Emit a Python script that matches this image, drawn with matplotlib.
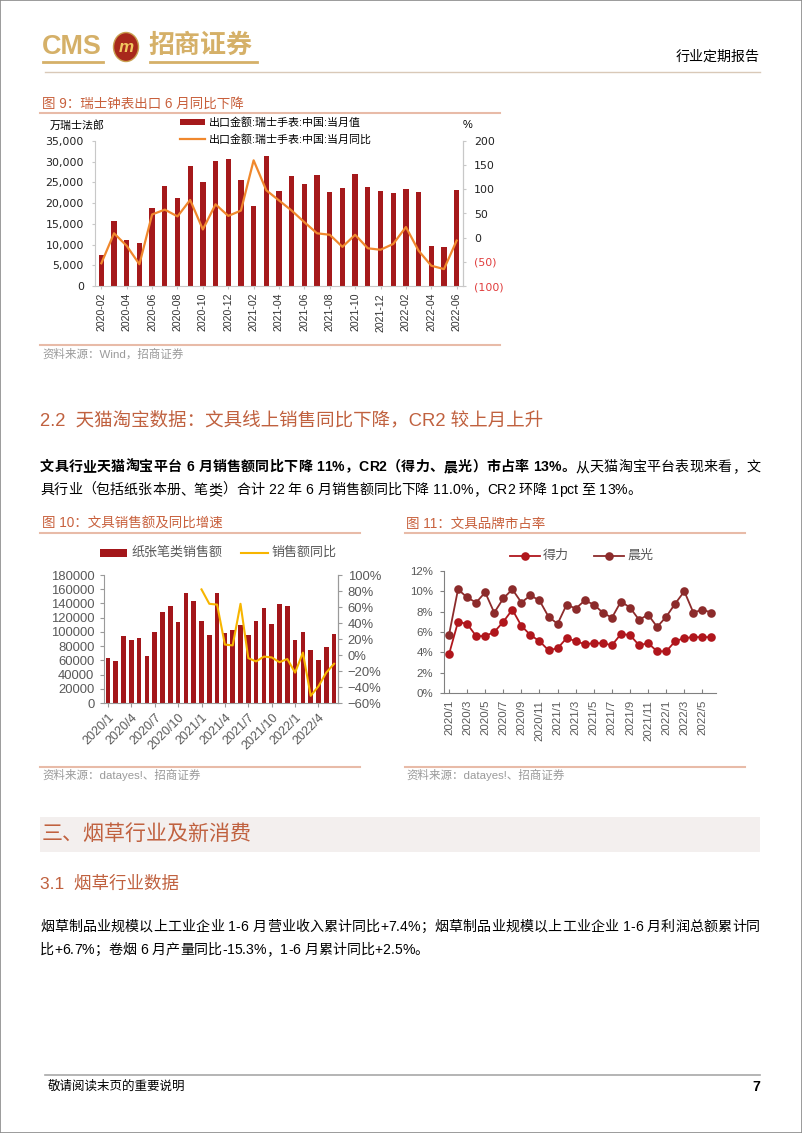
import matplotlib
matplotlib.use('Agg')
import matplotlib.pyplot as plt
import numpy as np
from matplotlib.patches import Rectangle, Ellipse
from matplotlib.lines import Line2D
from matplotlib.font_manager import FontProperties

# ---------------- data ----------------
swiss_months = ['2020-02', '2020-03', '2020-04', '2020-05', '2020-06', '2020-07', '2020-08',
                '2020-09', '2020-10', '2020-11', '2020-12', '2021-01', '2021-02', '2021-03',
                '2021-04', '2021-05', '2021-06', '2021-07', '2021-08', '2021-09', '2021-10',
                '2021-11', '2021-12', '2022-01', '2022-02', '2022-03', '2022-04', '2022-05',
                '2022-06']
swiss_value = [7400, 15700, 11100, 10300, 18800, 24200, 21200, 29000, 25200, 30200, 30700,
               25600, 19200, 31300, 23000, 26500, 24700, 26700, 22700, 23600, 27000, 23900,
               23000, 22400, 23400, 22700, 9700, 9300, 23100]
swiss_yoy = [-53, 9, -17, -55, 48, 58, 44, 78, 17, 69, 45, 56, 160, 98, 77, 56, 32, 9, 6,
             -19, 6, -22, -25, -13, 22, -27, -58, -65, -6]

stat_months = ['2020/1', '2020/2', '2020/3', '2020/4', '2020/5', '2020/6', '2020/7', '2020/8',
               '2020/9', '2020/10', '2020/11', '2020/12', '2021/1', '2021/2', '2021/3',
               '2021/4', '2021/5', '2021/6', '2021/7', '2021/8', '2021/9', '2021/10',
               '2021/11', '2021/12', '2022/1', '2022/2', '2022/3', '2022/4', '2022/5', '2022/6']
stat_sales = [63000, 59000, 94000, 89000, 92000, 66000, 100000, 128000, 136000, 114000,
              154000, 143000, 115000, 96000, 154000, 99000, 103000, 109000, 96000, 116000,
              133000, 111000, 139000, 136000, 89000, 100000, 74000, 60000, 79000, 97000]
stat_yoy = [np.nan] * 12 + [82, 64, 63, 13, 12, 64, -4, -8, -2, -3, -9, -5, -22, 3, -51,
                            -39, -22, -11]

share_deli = [3.8, 7.0, 6.8, 5.6, 5.6, 6.0, 7.0, 8.2, 6.6, 5.7, 5.1, 4.2, 4.4, 5.4, 5.1,
              4.8, 4.9, 4.9, 4.7, 5.8, 5.7, 4.7, 4.9, 4.1, 4.1, 5.1, 5.4, 5.5, 5.5, 5.5]
share_chenguang = [5.7, 10.2, 9.4, 8.9, 9.9, 7.9, 9.3, 10.2, 8.9, 9.6, 9.1, 7.5, 6.8, 8.7,
                   8.3, 9.1, 8.7, 7.9, 7.4, 9.0, 8.4, 7.2, 7.7, 6.5, 7.5, 8.8, 10.0, 7.9,
                   8.2, 7.9]

# ---------------- page helpers ----------------
W, H = 802, 1133
fig = plt.figure(figsize=(W / 100, H / 100), dpi=100)
LAT = ['Liberation Sans', 'Noto Sans CJK SC', 'DejaVu Sans']
CJK = ['Noto Sans CJK SC', 'DejaVu Sans']
plt.rcParams['font.family'] = LAT
plt.rcParams['axes.unicode_minus'] = False

ORANGE = '#C8603C'
RULE = '#E8BBA8'
GRAY_SRC = '#9A9A9A'


def fx(x):
    return x / W


def fy(y):
    return 1 - y / H


def rect(x0, y0, x1, y1):
    return [x0 / W, 1 - y1 / H, (x1 - x0) / W, (y1 - y0) / H]


def pt(px):
    return px * 72 / 100


def txt(x, y, s, size_px, color='black', weight='normal', ha='left', va='center',
        family=LAT, **kw):
    return fig.text(fx(x), fy(y), s, fontsize=pt(size_px), color=color, fontweight=weight,
                    ha=ha, va=va, family=family, **kw)


def hline(x0, x1, y, color, lw=1.0):
    fig.add_artist(Line2D([fx(x0), fx(x1)], [fy(y), fy(y)], color=color, lw=lw,
                          transform=fig.transFigure))


renderer = fig.canvas.get_renderer()


def char_w(c, size_px, weight):
    if c == ' ':
        return size_px * 0.28
    fp = FontProperties(family=LAT, size=pt(size_px), weight=weight)
    w, h, d = renderer.get_text_width_height_descent(c, fp, ismath=False)
    return w


def draw_line(x, y, runs, size_px, width=None):
    chars = []
    for s, wgt, col in runs:
        for c in s:
            chars.append((c, wgt, col, char_w(c, size_px, wgt)))
    total = sum(c[3] for c in chars)
    gaps = []
    for i in range(len(chars) - 1):
        a, b = chars[i][0], chars[i + 1][0]
        inner = (a.isascii() and a not in ' ' and b.isascii() and b not in ' ')
        gaps.append(0 if inner else 1)
    extra = 0
    if width is not None and sum(gaps) > 0:
        extra = (width - total) / sum(gaps)
    cx = x
    for i, (c, wgt, col, w) in enumerate(chars):
        if c != ' ':
            txt(cx, y, c, size_px, color=col, weight=wgt)
        cx += w
        if i < len(gaps):
            cx += extra * gaps[i]


# page border
fig.add_artist(Rectangle((0, 0), 1, 1, transform=fig.transFigure, fill=False,
                         edgecolor='#8A8A8A', lw=1.2))

# ---------------- header ----------------
GOLD = '#D5B068'
txt(42, 47, 'CMS', 27, color=GOLD, weight='bold',
    family=['Liberation Sans Narrow', 'Liberation Sans'])
fig.add_artist(Ellipse((fx(126), fy(47)), 25 / W, 29 / H, transform=fig.transFigure,
                       facecolor='#A8281C', edgecolor='#C9A050', lw=1))
txt(126, 47, 'm', 17, color='#F2C860', weight='bold', ha='center', style='italic')
txt(148, 46, '招商证券', 26, color=GOLD, weight='bold')
hline(43, 103, 62, GOLD, lw=2)
hline(150, 257, 62, GOLD, lw=2)
txt(760, 57, '行业定期报告', 14, ha='right')
hline(45, 760, 72, '#D9C9B8', lw=1)

# ---------------- chart 9 ----------------
txt(42, 104, '图 9：瑞士钟表出口 6 月同比下降', 13.5, color=ORANGE)
hline(40, 500, 113, RULE, lw=1.5)

BAR9 = '#A5191B'
LINE9 = '#F0882D'
ax9 = fig.add_axes(rect(95, 141, 463, 286))
x9 = np.arange(len(swiss_months))
ax9.bar(x9, swiss_value, width=0.42, color=BAR9)
ax9.set_xlim(-0.5, len(swiss_months) - 0.5)
ax9.set_ylim(0, 35000)
ax9.set_yticks(np.arange(0, 35001, 5000))
ax9.set_yticklabels([f'{v:,}' for v in range(0, 35001, 5000)])
ax9.set_xticks(x9[::2])
ax9.set_xticklabels(swiss_months[::2], rotation=90)
for s in ['top']:
    ax9.spines[s].set_visible(False)
for s in ['left', 'bottom', 'right']:
    ax9.spines[s].set_color('#C8C8C8')
ax9.tick_params(axis='y', length=2, pad=6, labelsize=pt(11), colors='#C8C8C8',
                labelcolor='#222222')
ax9.tick_params(axis='x', length=2, pad=3, labelsize=pt(10.5), colors='#C8C8C8',
                labelcolor='#333333')
for lab in ax9.get_yticklabels():
    lab.set_family(['DejaVu Sans'])

ax9b = ax9.twinx()
ax9b.plot(x9, swiss_yoy, color=LINE9, lw=1.6)
ax9b.set_ylim(-100, 200)
r_ticks = list(range(-100, 201, 50))
ax9b.set_yticks(r_ticks)
ax9b.set_yticklabels([f'({-v})' if v < 0 else f'{v}' for v in r_ticks])
ax9b.tick_params(axis='y', length=2, pad=6, labelsize=pt(11), colors='#C8C8C8')
for lab, v in zip(ax9b.get_yticklabels(), r_ticks):
    lab.set_color('#E03C3C' if v < 0 else '#222222')
    lab.set_family(['DejaVu Sans'])
for s in ['top', 'left', 'bottom']:
    ax9b.spines[s].set_visible(False)
ax9b.spines['right'].set_color('#C8C8C8')

txt(50, 125, '万瑞士法郎', 11)
txt(463, 125, '%', 11)
# legend 9
fig.add_artist(Rectangle((fx(180), fy(125)), 25 / W, 6 / H, transform=fig.transFigure,
                         facecolor=BAR9, edgecolor='none'))
txt(209, 122, '出口金额:瑞士手表:中国:当月值', 11)
hline(180, 205, 139, LINE9, lw=1.6)
txt(209, 139, '出口金额:瑞士手表:中国:当月同比', 11)

hline(40, 500, 345, RULE, lw=1.5)
txt(42, 354, '资料来源：Wind，招商证券', 11.5, color=GRAY_SRC)

# ---------------- section 2.2 text ----------------
txt(40, 420, '2.2  天猫淘宝数据：文具线上销售同比下降，CR2 较上月上升', 18.5, color='#C0613F')
draw_line(40, 467, [('文具行业天猫淘宝平台 6 月销售额同比下降 11%，CR2（得力、晨光）市占率 13%。', 'bold', 'black'),
                    ('从天猫淘宝平台表现来看，文', 'normal', 'black')], 14, width=720)
draw_line(40, 490, [('具行业（包括纸张本册、笔类）合计 22 年 6 月销售额同比下降 11.0%，CR2 环降 1pct 至 13%。',
                     'normal', 'black')], 14, width=None)

# ---------------- chart 10 ----------------
txt(42, 524, '图 10：文具销售额及同比增速', 13.5, color=ORANGE)
hline(40, 360, 533, RULE, lw=1.5)

BAR10 = '#A3161A'
LINE10 = '#F7B500'
TICKG = '#595959'
ax10 = fig.add_axes(rect(104, 575, 338, 703))
x10 = np.arange(len(stat_months))
ax10.bar(x10, stat_sales, width=0.58, color=BAR10)
ax10.set_xlim(-0.5, len(stat_months) - 0.5)
ax10.set_ylim(0, 180000)
ax10.set_yticks(np.arange(0, 180001, 20000))
ax10.set_xticks(x10[::3])
ax10.set_xticklabels(stat_months[::3], rotation=45, ha='right', rotation_mode='anchor')
ax10.spines['top'].set_visible(False)
for s in ['left', 'bottom', 'right']:
    ax10.spines[s].set_color('#9A9A9A')
ax10.tick_params(axis='y', length=3, pad=4, labelsize=pt(13), colors='#9A9A9A',
                 labelcolor=TICKG)
ax10.tick_params(axis='x', length=3, pad=3, labelsize=pt(12.5), colors='#9A9A9A',
                 labelcolor=TICKG)
ax10b = ax10.twinx()
ax10b.plot(x10, stat_yoy, color=LINE10, lw=1.5)
ax10b.set_ylim(-60, 100)
rt10 = list(range(-60, 101, 20))
ax10b.set_yticks(rt10)
ax10b.set_yticklabels([f'{v}%'.replace('-', '−') for v in rt10])
ax10b.tick_params(axis='y', length=3, pad=4, labelsize=pt(13), colors='#9A9A9A',
                  labelcolor=TICKG)
for s in ['top', 'left', 'bottom']:
    ax10b.spines[s].set_visible(False)
ax10b.spines['right'].set_color('#9A9A9A')

fig.add_artist(Rectangle((fx(100), fy(557)), 27 / W, 8 / H, transform=fig.transFigure,
                         facecolor=BAR10, edgecolor='none'))
txt(131, 553, '纸张笔类销售额', 13, color=TICKG)
hline(241, 268, 553, LINE10, lw=1.5)
txt(272, 553, '销售额同比', 13, color=TICKG)

hline(40, 360, 767, RULE, lw=1.5)
txt(42, 775, '资料来源：datayes!、招商证券', 11.5, color=GRAY_SRC)

# ---------------- chart 11 ----------------
txt(406, 524, '图 11：文具品牌市占率', 13.5, color=ORANGE)
hline(405, 745, 533, RULE, lw=1.5)

C_DELI = '#B0161C'
C_CG = '#8C2B2B'
ax11 = fig.add_axes(rect(444, 571, 716, 693))
x11 = np.arange(len(stat_months))
ax11.plot(x11, share_chenguang, color=C_CG, lw=1.3, marker='o', markersize=6.2,
          markeredgewidth=0)
ax11.plot(x11, share_deli, color=C_DELI, lw=1.3, marker='o', markersize=6.2,
          markeredgewidth=0)
ax11.set_xlim(-0.55, len(stat_months) - 0.5)
ax11.set_ylim(0, 12)
ax11.set_yticks(np.arange(0, 13, 2))
ax11.set_yticklabels([f'{v}%' for v in range(0, 13, 2)])
ax11.set_xticks(x11[::2])
ax11.set_xticklabels(stat_months[::2], rotation=90)
for s in ['top', 'right']:
    ax11.spines[s].set_visible(False)
for s in ['left', 'bottom']:
    ax11.spines[s].set_color('#808080')
ax11.tick_params(axis='y', length=3, pad=5, labelsize=pt(11.5), colors='#808080',
                 labelcolor=TICKG)
ax11.tick_params(axis='x', length=3, direction='in', pad=5, labelsize=pt(11.5),
                 colors='#808080', labelcolor=TICKG)

fig.add_artist(Line2D([fx(510), fx(540)], [fy(556), fy(556)], color=C_DELI, lw=1.3,
                      transform=fig.transFigure))
fig.add_artist(Line2D([fx(525)], [fy(556)], color=C_DELI, marker='o', markersize=6.2,
                      markeredgewidth=0, transform=fig.transFigure))
txt(543, 556, '得力', 13, color=TICKG)
fig.add_artist(Line2D([fx(594), fx(624)], [fy(556), fy(556)], color=C_CG, lw=1.3,
                      transform=fig.transFigure))
fig.add_artist(Line2D([fx(609)], [fy(556)], color=C_CG, marker='o', markersize=6.2,
                      markeredgewidth=0, transform=fig.transFigure))
txt(627, 556, '晨光', 13, color=TICKG)

hline(405, 745, 767, RULE, lw=1.5)
txt(406, 775, '资料来源：datayes!、招商证券', 11.5, color=GRAY_SRC)

# ---------------- section 3 ----------------
fig.add_artist(Rectangle((fx(40), fy(852)), 720 / W, 35 / H, transform=fig.transFigure,
                         facecolor='#F3EFEE', edgecolor='none'))
txt(42, 834, '三、烟草行业及新消费', 21, color='#C0613F')
txt(40, 884, '3.1  烟草行业数据', 17.5, color='#C0613F')
draw_line(40, 927, [('烟草制品业规模以上工业企业 1-6 月营业收入累计同比+7.4%；烟草制品业规模以上工业企业 1-6 月利润总额累计同',
                     'normal', 'black')], 14, width=720)
draw_line(40, 950, [('比+6.7%；卷烟 6 月产量同比-15.3%，1-6 月累计同比+2.5%。', 'normal', 'black')], 14)

# ---------------- footer ----------------
hline(45, 760, 1075, '#A8A8A8', lw=1.2)
txt(48, 1087, '敬请阅读末页的重要说明', 12.5)
txt(760, 1087, '7', 14, weight='bold', ha='right')

fig.savefig('out.png', dpi=100)
